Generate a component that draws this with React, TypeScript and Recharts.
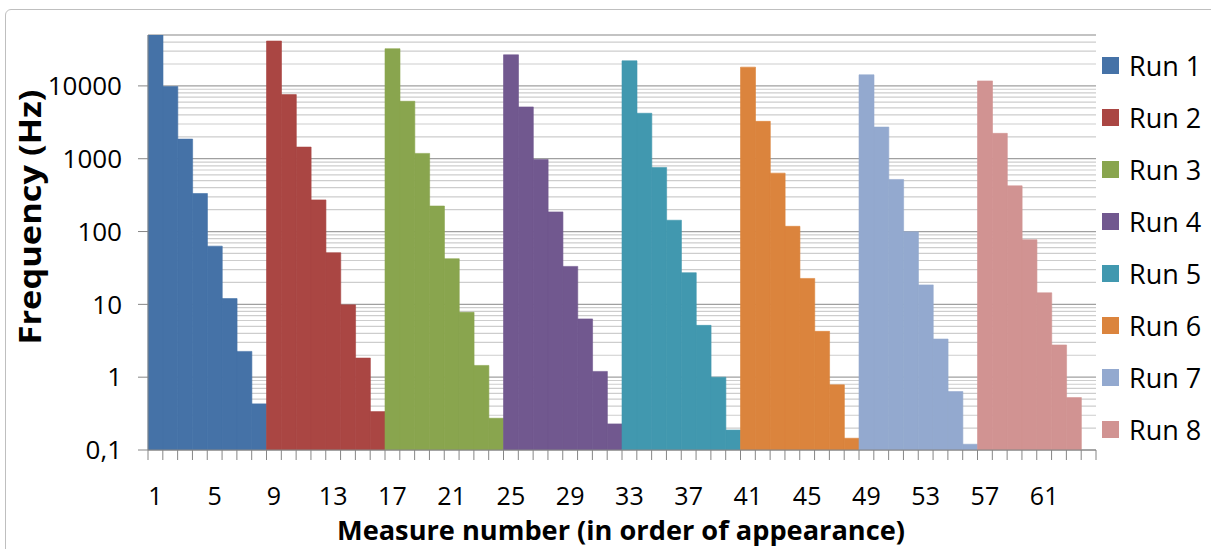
import React from 'react';
import { BarChart, Bar, XAxis, YAxis, CartesianGrid, Cell } from 'recharts';

// measure numbers 1..64, in order of appearance
const measures = [
  1, 2, 3, 4, 5, 6, 7, 8, 9, 10, 11, 12, 13, 14, 15, 16,
  17, 18, 19, 20, 21, 22, 23, 24, 25, 26, 27, 28, 29, 30, 31, 32,
  33, 34, 35, 36, 37, 38, 39, 40, 41, 42, 43, 44, 45, 46, 47, 48,
  49, 50, 51, 52, 53, 54, 55, 56, 57, 58, 59, 60, 61, 62, 63, 64,
];

const runNames = ['Run 1', 'Run 2', 'Run 3', 'Run 4', 'Run 5', 'Run 6', 'Run 7', 'Run 8'];
const runColors = ['#4572A7', '#AA4643', '#89A54E', '#71588F', '#4198AF', '#DB843D', '#93A9CF', '#D19392'];

// frequency (Hz) per measure, 8 measures per run
const run1 = [50000, 9800, 1860, 333, 63, 12.0, 2.26, 0.43];
const run2 = [41300, 7590, 1445, 272, 51.2, 9.84, 1.83, 0.337];
const run3 = [32400, 6150, 1183, 224, 42.3, 7.78, 1.45, 0.273];
const run4 = [26700, 5140, 978, 186, 33.2, 6.31, 1.2, 0.228];
const run5 = [22100, 4210, 759, 143, 27.2, 5.15, 1.0, 0.188];
const run6 = [18100, 3260, 634, 118, 22.7, 4.26, 0.785, 0.145];
const run7 = [14200, 2720, 519, 99.6, 18.5, 3.34, 0.635, 0.12];
const run8 = [11700, 2230, 424, 77.3, 14.4, 2.77, 0.525, null];

const runs = [run1, run2, run3, run4, run5, run6, run7, run8];

const yTicks = [0.1, 1, 10, 100, 1000, 10000];
const xLabelEvery = 4;

const data = measures.map((m, i) => ({
  measure: m,
  run: Math.floor(i / 8),
  value: runs[Math.floor(i / 8)][i % 8],
}));

// minor grid values 2..9 in each decade, up to the top of the axis
const yMax = 50000;
const minorGrid: number[] = [];
yTicks.forEach((d) => {
  for (let k = 2; k <= 9; k++) {
    if (k * d <= yMax) minorGrid.push(Number((k * d).toPrecision(3)));
  }
});

const W = 1211;
const H = 549;
const plotLeft = 148;
const plotRight = 1096;
const plotTop = 35;
const plotBottom = 450;
const band = (plotRight - plotLeft) / measures.length;
const axisColor = '#868686';
const font = '"Open Sans", sans-serif';

const XTick = (props: any) => {
  const { x, y, index, payload } = props;
  const left = x - band / 2;
  const right = x + band / 2;
  return (
    <g>
      <line x1={left} y1={y} x2={left} y2={y + 10} stroke={axisColor} />
      {index === measures.length - 1 && (
        <line x1={right} y1={y} x2={right} y2={y + 10} stroke={axisColor} />
      )}
      {index % xLabelEvery === 0 && (
        <text x={x} y={y + 55} textAnchor="middle" fontSize={25} fontFamily={font} fill="#000">
          {payload.value}
        </text>
      )}
    </g>
  );
};

const fmtY = (v: number) => (v < 1 ? String(v).replace('.', ',') : String(v));

export default function App() {
  return (
    <div style={{ position: 'fixed', left: 0, top: 0, width: W, height: H, overflow: 'hidden', background: '#fff', fontFamily: font }}>
      <div
        style={{
          position: 'absolute', left: 5, top: 9, width: 1240, height: 580,
          border: '1.5px solid #bfbfbf', borderRadius: 6,
        }}
      />
      <div style={{ position: 'absolute', left: 0, top: 0 }}>
        <BarChart
          width={W}
          height={H}
          data={data}
          margin={{ top: plotTop, right: W - plotRight, left: plotLeft - 100, bottom: 0 }}
          barCategoryGap={0}
          barGap={0}
        >
          <CartesianGrid yAxisId="minor" vertical={false} stroke="#cdcdcd" strokeWidth={1.2} />
          <CartesianGrid vertical={false} stroke="#a0a0a0" strokeWidth={1.2} />
          <XAxis
            dataKey="measure"
            height={H - plotBottom}
            interval={0}
            tickLine={false}
            tickSize={0}
            tickMargin={0}
            axisLine={{ stroke: axisColor }}
            tick={<XTick />}
            label={() => (
              <text x={621} y={540} textAnchor="middle" fontSize={27} fontWeight="bold" fontFamily={font} fill="#000"
                textLength={568} lengthAdjust="spacingAndGlyphs">
                Measure number (in order of appearance)
              </text>
            )}
          />
          <YAxis
            yAxisId="minor"
            hide
            scale="log"
            domain={[0.1, yMax]}
            allowDataOverflow
            ticks={minorGrid}
            interval={0}
          />
          <YAxis
            scale="log"
            domain={[0.1, yMax]}
            allowDataOverflow
            ticks={yTicks}
            interval={0}
            tickFormatter={fmtY}
            width={100}
            tickSize={10}
            tickMargin={16}
            tickLine={{ stroke: axisColor }}
            axisLine={{ stroke: axisColor }}
            tick={{ fontSize: 26, fill: '#000', fontFamily: font }}
            label={() => (
              <text x={41} y={217} transform="rotate(-90 41 217)" textAnchor="middle" fontSize={30} fontWeight="bold"
                fontFamily={font} fill="#000" textLength={255} lengthAdjust="spacingAndGlyphs">
                Frequency (Hz)
              </text>
            )}
          />
          <Bar dataKey="value" isAnimationActive={false}>
            {data.map((d, i) => (
              <Cell key={i} fill={runColors[d.run]} stroke={runColors[d.run]} strokeWidth={0.6} />
            ))}
          </Bar>
        </BarChart>
      </div>
      <div style={{ position: 'absolute', left: 1102, top: 39 }}>
        {runNames.map((name, i) => (
          <div key={name} style={{ display: 'flex', alignItems: 'center', height: 52.1 }}>
            <div style={{ width: 17, height: 17, background: runColors[i], marginRight: 10 }} />
            <span style={{ fontSize: 27, color: '#000', lineHeight: 1 }}>{name}</span>
          </div>
        ))}
      </div>
    </div>
  );
}
